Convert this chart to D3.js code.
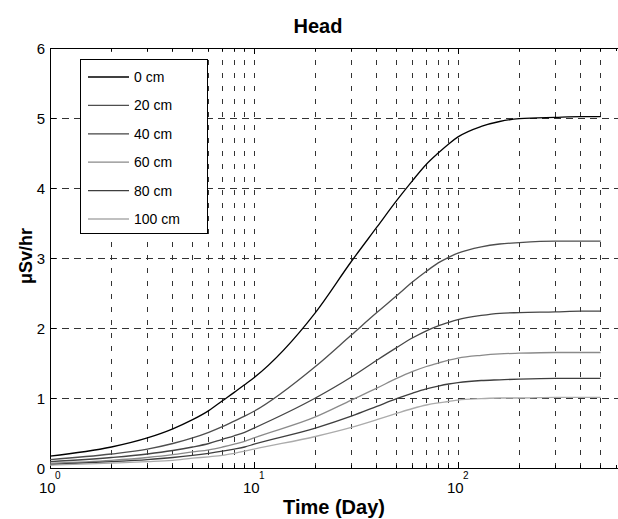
<!DOCTYPE html>
<html><head><meta charset="utf-8">
<script src="https://cdn.jsdelivr.net/npm/d3@7/dist/d3.min.js"></script>
<style>html,body{margin:0;padding:0;background:#fff;}svg{display:block;font-family:"Liberation Sans",Arial,Helvetica,sans-serif;}</style>
</head><body>
<svg id="chart" width="618" height="519"></svg>
<script>
const title = "Head";
const xLabel = "Time (Day)";
const yLabel = "μSv/hr";
const days = [1,2,3,4,5,6,7,8,9,10,20,30,40,50,60,70,80,90,100,130,160,200,300,400,500];
const seriesNames = ["0 cm","20 cm","40 cm","60 cm","80 cm","100 cm"];
const cm0   = [0.17,0.30,0.43,0.56,0.69,0.82,0.96,1.08,1.19,1.29,2.22,2.95,3.44,3.82,4.11,4.34,4.50,4.63,4.73,4.88,4.95,4.99,5.01,5.02,5.02];
const cm20  = [0.12,0.20,0.27,0.35,0.43,0.51,0.59,0.67,0.74,0.81,1.45,1.90,2.22,2.46,2.66,2.81,2.93,3.01,3.07,3.16,3.20,3.22,3.24,3.24,3.24];
const cm40  = [0.09,0.15,0.20,0.25,0.30,0.35,0.41,0.46,0.51,0.57,1.00,1.30,1.54,1.72,1.86,1.96,2.03,2.08,2.12,2.18,2.21,2.22,2.23,2.24,2.24];
const cm60  = [0.07,0.11,0.15,0.19,0.23,0.26,0.30,0.34,0.38,0.43,0.73,0.97,1.14,1.28,1.38,1.45,1.50,1.54,1.57,1.61,1.63,1.64,1.65,1.65,1.65];
const cm80  = [0.05,0.09,0.12,0.15,0.18,0.21,0.24,0.27,0.30,0.34,0.57,0.74,0.88,0.99,1.07,1.13,1.17,1.20,1.22,1.25,1.26,1.27,1.28,1.28,1.28];
const cm100 = [0.04,0.07,0.09,0.11,0.14,0.16,0.18,0.21,0.24,0.27,0.45,0.58,0.69,0.78,0.85,0.90,0.93,0.95,0.97,0.99,1.00,1.00,1.01,1.01,1.01];
const seriesValues = [cm0, cm20, cm40, cm60, cm80, cm100];
const seriesColors = ["#000000","#4e4e4e","#454545","#8a8a8a","#3e3e3e","#ababab"];
const yTicks = [0,1,2,3,4,5,6];
const xMajorTicks = [1,10,100];

const svg = d3.select("#chart");
const x = d3.scaleLog().domain([1,1000]).range([50,662]);
const y = d3.scaleLinear().domain([0,6]).range([468,48]);
const W = 618;

// grid
const gridX = x.ticks().filter(t => x(t) < 610 && t > 1);
svg.append("g").selectAll("line").data(gridX).join("line")
  .attr("x1", d => x(d)).attr("x2", d => x(d)).attr("y1", y(0)).attr("y2", y(6))
  .attr("stroke", "#333").attr("stroke-width", 1).attr("stroke-dasharray", "5,8")
  .attr("shape-rendering","crispEdges");
svg.append("g").selectAll("line").data(yTicks.filter(t => t > 0 && t < 6)).join("line")
  .attr("x1", x(1)).attr("x2", W).attr("y1", d => y(d)).attr("y2", d => y(d))
  .attr("stroke", "#333").attr("stroke-width", 1).attr("stroke-dasharray", "7,5")
  .attr("shape-rendering","crispEdges");

// axes frame
svg.append("line").attr("x1", x(1)).attr("x2", W).attr("y1", y(0)).attr("y2", y(0)).attr("stroke","#000").attr("shape-rendering","crispEdges");
svg.append("line").attr("x1", x(1)).attr("x2", W).attr("y1", y(6)).attr("y2", y(6)).attr("stroke","#000").attr("shape-rendering","crispEdges");
svg.append("line").attr("x1", x(1)).attr("x2", x(1)).attr("y1", y(0)).attr("y2", y(6)).attr("stroke","#000").attr("shape-rendering","crispEdges");

// x ticks (inward) bottom & top
const allX = x.ticks().filter(t => x(t) < 618);
svg.append("g").selectAll("line").data(allX).join("line")
  .attr("x1", d => x(d)).attr("x2", d => x(d)).attr("y1", y(0)).attr("y2", d => y(0) - (xMajorTicks.includes(d) ? 6 : 3))
  .attr("stroke","#000").attr("shape-rendering","crispEdges");
svg.append("g").selectAll("line").data(allX).join("line")
  .attr("x1", d => x(d)).attr("x2", d => x(d)).attr("y1", y(6)).attr("y2", d => y(6) + (xMajorTicks.includes(d) ? 6 : 3))
  .attr("stroke","#000").attr("shape-rendering","crispEdges");
// y ticks inward
svg.append("g").selectAll("line").data(yTicks).join("line")
  .attr("x1", x(1)).attr("x2", x(1) + 6).attr("y1", d => y(d)).attr("y2", d => y(d))
  .attr("stroke","#000").attr("shape-rendering","crispEdges");

// y tick labels
svg.append("g").selectAll("text").data(yTicks).join("text")
  .attr("x", 45).attr("y", d => y(d) + 5.5).attr("text-anchor","end")
  .attr("font-size", 15).text(d => d);

// x tick labels 10^n
const xl = svg.append("g").selectAll("g").data(xMajorTicks).join("g")
  .attr("transform", d => `translate(${x(d)},0)`);
xl.append("text").attr("x", -11).attr("y", 493).attr("font-size", 15).text("10");
xl.append("text").attr("x", 5).attr("y", 479).attr("font-size", 10).text(d => Math.round(Math.log10(d)));

// curves
const line = d3.line().x(d => x(d[0])).y(d => y(d[1])).curve(d3.curveMonotoneX);
seriesValues.forEach((vals, i) => {
  svg.append("path").datum(days.map((d, j) => [d, vals[j]]))
    .attr("d", line).attr("fill","none").attr("stroke", seriesColors[i]).attr("stroke-width", 1.3);
});

// legend
const lg = svg.append("g");
lg.append("rect").attr("x", 80.5).attr("y", 59.5).attr("width", 127).attr("height", 174)
  .attr("fill","#fff").attr("stroke","#000").attr("stroke-width",1);
seriesNames.forEach((n, i) => {
  const yy = 77 + i * 28.4;
  lg.append("line").attr("x1", 88).attr("x2", 129).attr("y1", yy).attr("y2", yy)
    .attr("stroke", seriesColors[i]).attr("stroke-width", 1.3);
  lg.append("text").attr("x", 134).attr("y", yy + 5).attr("font-size", 14).text(n);
});

// titles
svg.append("text").attr("x", 318).attr("y", 33).attr("text-anchor","middle")
  .attr("font-size", 20).attr("font-weight","bold").text(title);
svg.append("text").attr("x", 334).attr("y", 514).attr("text-anchor","middle")
  .attr("font-size", 20).attr("font-weight","bold").text(xLabel);
svg.append("text").attr("transform", "translate(32,256) rotate(-90)").attr("text-anchor","middle")
  .attr("font-size", 18).attr("font-weight","bold").text(yLabel);
</script>
</body></html>
